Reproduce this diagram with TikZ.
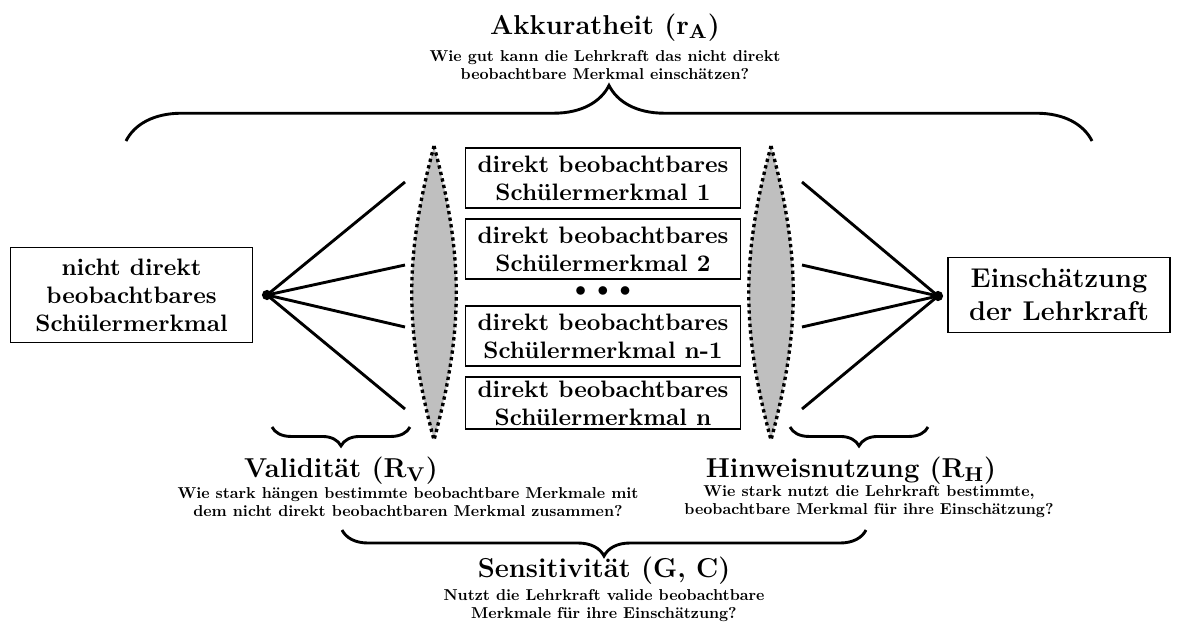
\documentclass[tikz,border=0pt]{standalone}
\usepackage{amsmath}
\usetikzlibrary{decorations.pathreplacing}

\font\fragefont="[lmroman10-bold]:mapping=tex-text" at 7.1pt

\tikzset{
  merkmal/.style={draw, line width=0.6pt, align=center, font=\fontsize{10.7}{12.6}\selectfont\bfseries, inner sep=1pt},
  punkt/.style={circle, fill, inner sep=0pt, minimum size=4.6pt},
  fan/.style={line width=1.3pt},
  linse/.style={fill=gray!50, line width=1.5pt, dash pattern=on 1.5pt off 1.5pt},
  klammer/.style={decorate, line width=1.3pt, decoration={brace, amplitude=#1}},
  titel/.style={font=\fontsize{12.3}{14}\selectfont\bfseries, anchor=base},
  frage/.style={font=\fontsize{7.1}{8.1}\selectfont\fragefont, align=center}
}

\begin{document}
\begin{tikzpicture}[x=0.45pt, y=0.45pt]
    \useasboundingbox (0,0) rectangle (1180,626);
    % boxes
    \node[merkmal, minimum width=109pt, minimum height=43pt] (ziel) at (131.5,331)
        {nicht direkt\\beobachtbares\\Schülermerkmal};
    \node[merkmal, font=\fontsize{12.2}{14.8}\selectfont\bfseries, minimum width=100pt, minimum height=34pt] (urteil) at (1059,331)
        {Einschätzung\\der Lehrkraft};
    \node[merkmal, minimum width=124pt, minimum height=27pt] (m1) at (603,448)
        {direkt beobachtbares\\Schülermerkmal 1};
    \node[merkmal, minimum width=124pt, minimum height=27pt] (m2) at (603,377)
        {direkt beobachtbares\\Schülermerkmal 2};
    \node (punkte) at (603,334) {$\bullet\;\bullet\;\bullet$};
    \node[merkmal, minimum width=124pt, minimum height=27pt] (mn1) at (603,290)
        {direkt beobachtbares\\Schülermerkmal n-1};
    \node[merkmal, minimum width=124pt, minimum height=23.4pt] (mn) at (603,223)
        {direkt beobachtbares\\Schülermerkmal n};
    % lenses
    \coordinate (linseLo) at (434,480);
    \coordinate (linseLu) at (434,186);
    \coordinate (linseRo) at (771,480);
    \coordinate (linseRu) at (771,186);
    \filldraw[linse] (linseLo) to[bend left=15] (linseLu) to[bend left=15] (linseLo) -- cycle;
    \filldraw[linse] (linseRo) to[bend left=15] (linseRu) to[bend left=15] (linseRo) -- cycle;
    % fans
    \node[punkt] (dotL) at (267,331) {};
    \node[punkt] (dotR) at (938,330) {};
    \foreach \y [count=\i] in {444,361,299,217} {
        \coordinate (l\i) at (405,\y);
        \coordinate (r\i) at (802,\y);
        \draw[fan] (dotL.center) -- (l\i);
        \draw[fan] (dotR.center) -- (r\i);
    }
    % braces
    \coordinate (akkA) at (126,485);
    \coordinate (akkB) at (1092,485);
    \coordinate (valA) at (272,199);
    \coordinate (valB) at (410,199);
    \coordinate (hinA) at (790,199);
    \coordinate (hinB) at (928,199);
    \coordinate (sensA) at (342,96);
    \coordinate (sensB) at (866,96);
    \draw[klammer=25pt] (akkA) -- (akkB);
    \draw[klammer=8.5pt, decoration={mirror}] (valA) -- (valB);
    \draw[klammer=8.5pt, decoration={mirror}] (hinA) -- (hinB);
    \draw[klammer=11.7pt, decoration={mirror}] (sensA) -- (sensB);
    % labels
    \node[titel] (akk) at (605,592) {Akkuratheit (r$_{\mathbf{A}}$)};
    \node[frage] (akkfrage) at (605,561)
        {Wie gut kann die Lehrkraft das nicht direkt\\beobachtbare Merkmal einschätzen?};
    \node[titel] (val) at (341,149) {Validität (R$_{\mathbf{V}}$)};
    \node[frage] (valfrage) at (408,124)
        {Wie stark hängen bestimmte beobachtbare Merkmale mit\\dem nicht direkt beobachtbaren Merkmal zusammen?};
    \node[titel] (hin) at (851,149) {Hinweisnutzung (R$_{\mathbf{H}}$)};
    \node[frage] (hinfrage) at (869,124)
        {Wie stark nutzt die Lehrkraft bestimmte,\\beobachtbare Merkmal für ihre Einschätzung?};
    \node[titel] (sens) at (604,49) {Sensitivität (G, C)};
    \node[frage] (sensfrage) at (604,20)
        {Nutzt die Lehrkraft valide beobachtbare\\Merkmale für ihre Einschätzung?};
\end{tikzpicture}
\end{document}
